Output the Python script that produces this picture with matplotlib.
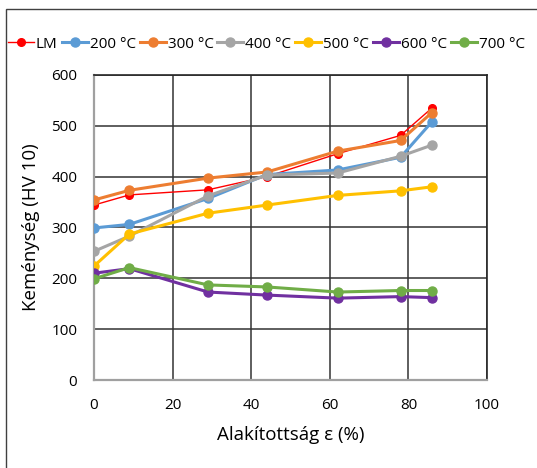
import matplotlib
matplotlib.use("Agg")
import matplotlib.pyplot as plt
from matplotlib.patches import Rectangle

plt.rcParams['font.family'] = ['Open Sans', 'DejaVu Sans']

eps = [0, 9, 29, 44, 62, 78, 86]
series = {
    "LM":     [344, 364, 374, 400, 445, 481, 535],
    "200 °C": [299, 306, 357, 404, 413, 438, 508],
    "300 °C": [354, 373, 397, 409, 450, 471, 526],
    "400 °C": [253, 283, 362, 403, 407, 440, 462],
    "500 °C": [224, 287, 328, 344, 363, 372, 380],
    "600 °C": [210, 219, 173, 167, 161, 164, 162],
    "700 °C": [199, 221, 187, 183, 173, 176, 176],
}
colors = ["#ff0000", "#5b9bd5", "#ed7d31", "#a5a5a5", "#ffc000", "#7030a0", "#70ad47"]

fig = plt.figure(figsize=(5.37, 4.68), dpi=100)
ax = fig.add_axes([0.175, 0.188, 0.732, 0.652])

for (name, vals), c in zip(series.items(), colors):
    if name == "LM":
        ax.plot(eps, vals, color=c, lw=1.0, marker='o', ms=5.5, label=name, zorder=3)
    else:
        ax.plot(eps, vals, color=c, lw=2.2, marker='o', ms=6.5, label=name, zorder=3)

ax.set_xlim(0, 100)
ax.set_ylim(0, 600)
ax.set_xticks(range(0, 101, 20))
ax.set_yticks(range(0, 601, 100))
ax.grid(True, color='#333333', lw=1.1)
ax.tick_params(length=0, labelsize=11)
ax.tick_params(axis='y', pad=12)
ax.tick_params(axis='x', pad=13)
for s in ['top', 'right']:
    ax.spines[s].set_color('#262626')
    ax.spines[s].set_linewidth(1.2)
for s in ['left', 'bottom']:
    ax.spines[s].set_color('#a0a0a0')
    ax.spines[s].set_linewidth(1.6)

ax.set_xlabel("Alakítottság ε (%)", fontsize=13.5, labelpad=9)
ax.set_ylabel("Keménység (HV 10)", fontsize=13.5, labelpad=8)

ax.legend(loc='center left', bbox_to_anchor=(8 / 537, 1 - 44 / 468),
          bbox_transform=fig.transFigure, ncol=7, frameon=False,
          fontsize=11, handlelength=1.7, handletextpad=0.13, columnspacing=0.26,
          borderaxespad=0, borderpad=0)

fig.patches.append(Rectangle((6 / 537, -0.1), 1.2, 1 - 9 / 468 + 0.1,
                             transform=fig.transFigure, fill=False,
                             edgecolor='#404040', lw=1.0))

fig.savefig("out.png", dpi=100)
